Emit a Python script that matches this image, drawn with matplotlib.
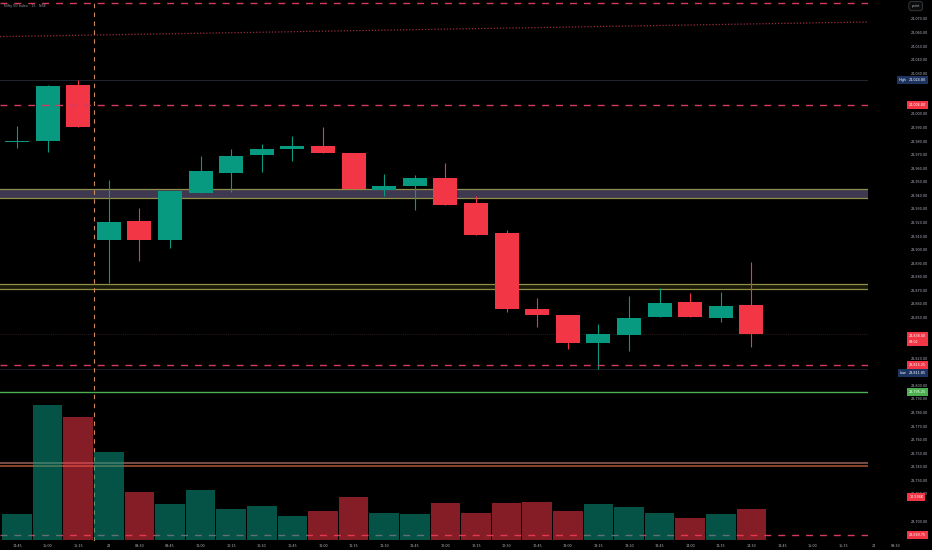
import matplotlib
matplotlib.use("Agg")
import matplotlib.pyplot as plt
import matplotlib.transforms as mtransforms
import numpy as np

# 15 min candles, Nifty 50
times = ["14:45", "15:00", "15:15", "23", "09:30", "09:45", "10:00", "10:15", "10:30",
         "10:45", "11:00", "11:15", "11:30", "11:45", "12:00", "12:15", "12:30", "12:45",
         "13:00", "13:15", "13:30", "13:45", "14:00", "14:15", "14:30"]
axis_labels = times + ["14:45", "15:00", "15:15", "24", "09:30"]

opens = [23979.0, 23980.1, 24021.4, 23907.1, 23921.1, 23907.1, 23941.8, 23956.5, 23969.8,
         23974.2, 23976.4, 23971.3, 23944.0, 23946.9, 23952.8, 23934.4, 23912.3, 23856.3,
         23851.9, 23831.2, 23837.1, 23850.4, 23861.5, 23849.7, 23859.2]
highs = [23991.2, 24021.4, 24024.8, 23951.4, 23930.7, 23943.3, 23969.0, 23974.2, 23977.9,
         23983.8, 23990.4, 23971.3, 23955.8, 23955.0, 23963.9, 23939.6, 23914.5, 23864.4,
         23851.9, 23845.2, 23865.9, 23871.8, 23868.1, 23868.8, 23890.9]
lows = [23974.9, 23972.0, 23990.4, 23875.5, 23891.7, 23901.2, 23941.8, 23942.5, 23957.3,
        23965.4, 23971.3, 23944.7, 23939.6, 23929.2, 23932.9, 23910.8, 23854.1, 23843.0,
        23826.8, 23811.85, 23825.3, 23850.4, 23850.4, 23846.7, 23828.3]
closes = [23979.8, 24020.6, 23990.4, 23920.4, 23907.1, 23943.3, 23958.0, 23969.0, 23974.2,
          23976.4, 23971.3, 23944.7, 23946.9, 23952.8, 23932.9, 23910.8, 23856.3, 23851.9,
          23831.2, 23837.9, 23849.7, 23860.7, 23850.4, 23858.5, 23838.0]
volumes_k = [8.9, 46.2, 42.1, 30.1, 16.4, 12.3, 17.1, 10.6, 11.6, 8.2, 9.9, 14.7, 9.2,
             8.9, 12.7, 9.2, 12.7, 13.0, 9.9, 12.3, 11.3, 9.2, 7.5, 8.9, 10.594]

# price scale labels (those hidden behind badges left out)
price_ticks = [24070, 24060, 24050, 24040, 24030, 24000, 23990, 23980, 23970, 23960,
               23950, 23940, 23930, 23920, 23910, 23900, 23890, 23880, 23870, 23860,
               23850, 23830, 23820, 23800, 23790, 23780, 23770, 23760, 23750, 23740,
               23730, 23720, 23700]

# drawn levels
red_dashed = [24081.8, 24006.8, 23815.25, 23689.75]
grey_zone = (23938.1, 23944.7)
olive_pair = (23871.1, 23874.7)
green_level = 23795.25
brown_levels = [23742.8, 23740.6]
high_level = 24024.8
low_level = 23811.85
trend_start = 24057.0
trend_end = 24067.8
session_break = 2.5

GREEN = "#089981"
RED = "#f23645"
NAVY = "#1d3461"
BG = "#000000"
TXT = "#b2b5be"
FS = 2.4

fig = plt.figure(figsize=(9.32, 5.5), dpi=100, facecolor=BG)
ax = fig.add_axes([0, 9 / 550, 868 / 932, 541 / 550])
ax.set_facecolor(BG)
ax.set_xlim(-0.556, 27.81)
ax.set_ylim(23685.3, 24084.0)

# volume on an overlay axis
vax = ax.twinx()
vax.set_ylim(-0.35, 184.7)
vax.axis("off")
n = len(times)
idx = np.arange(n)
up = np.array(closes) >= np.array(opens)
vcol = np.where(up, GREEN, RED)
vax.bar(idx, volumes_k, width=0.97, color=vcol, alpha=0.55, linewidth=0, zorder=1)

# zones / levels
ax.axhspan(grey_zone[0], grey_zone[1], color="#45405a", alpha=0.9, zorder=1, lw=0)
for y in grey_zone:
    ax.axhline(y, color="#8f8f48", lw=0.9, zorder=2)
ax.axhspan(olive_pair[0], olive_pair[1], color="#1a1a08", zorder=1, lw=0)
for y in olive_pair:
    ax.axhline(y, color="#8f8f48", lw=0.9, zorder=2)
ax.axhline(green_level, color="#4caf50", lw=1.0, zorder=2)
ax.axhline(brown_levels[0], color="#8c5a52", lw=1.2, zorder=2)
ax.axhline(brown_levels[1], color="#a0522d", lw=1.2, zorder=2)
ax.axhline(high_level, color="#222630", lw=0.7, zorder=1)
ax.axhline(low_level, color="#1c1f28", lw=0.7, zorder=1)
ax.axhline(closes[-1], color="#2a1a1c", lw=0.7, ls=(0, (1, 1)), zorder=1)
ax.plot([-0.556, 27.81], [trend_start, trend_end], color="#9b2c40", lw=0.9,
        ls=(0, (1, 1.5)), zorder=2)
for y in red_dashed:
    ax.axhline(y, color="#d63a5e", lw=1.0, ls=(0, (5, 5)), zorder=6)
ax.axvline(session_break, color="#d08a5c", lw=0.8, ls=(0, (4, 4)), zorder=6)

# candles
for i in range(n):
    c = GREEN if up[i] else RED
    ax.vlines(i, lows[i], highs[i], color=c, lw=0.8, zorder=3)
    lo = min(opens[i], closes[i])
    h = max(abs(closes[i] - opens[i]), 0.6)
    ax.bar(i, h, bottom=lo, width=0.78, color=c, linewidth=0, zorder=4)

# axes cosmetics
for s in ax.spines.values():
    s.set_visible(False)
ax.set_xticks([])
ax.yaxis.tick_right()
ax.set_yticks(price_ticks)
ax.set_yticklabels([f"{v:,.2f}" for v in price_ticks])
ax.tick_params(axis="y", length=0, pad=31, labelsize=FS, labelcolor=TXT)

xt = mtransforms.blended_transform_factory(ax.transData, ax.transAxes)
label_pos = list(range(29)) + [28.7]
for pos, lab in zip(label_pos, axis_labels):
    ax.text(pos, -0.009, lab, transform=xt, ha="center", va="center",
            fontsize=FS, color=TXT, clip_on=False)

# price badges
yt = mtransforms.blended_transform_factory(ax.transAxes, ax.transData)


def badge(y, text, fc, tc="white"):
    ax.text(1.0475, y, text, transform=yt, ha="left", va="center", fontsize=FS,
            color=tc, clip_on=False, zorder=10, linespacing=1.6,
            bbox=dict(boxstyle="square,pad=0.6", fc=fc, ec="none"))


def tag(y, text):
    ax.text(1.0445, y, text, transform=yt, ha="right", va="center", fontsize=FS,
            color="white", clip_on=False, zorder=10,
            bbox=dict(boxstyle="square,pad=0.6", fc=NAVY, ec="none"))


badge(high_level, "24,024.80", NAVY)
tag(high_level, "High")
badge(24006.8, "24,006.80", RED)
badge(23834.0, "23,838.00\n09:02", RED)
badge(23815.25, "23,815.25", RED)
badge(low_level - 2.8, "23,811.85", NAVY)
tag(low_level - 2.8, "Low")
badge(green_level, "23,795.25", "#4caf50")
badge(23717.5, "10.594K", RED)
badge(23689.75, "23,689.75", RED)

fig.text(0.978, 0.989, "point", ha="left", va="center", fontsize=FS, color=TXT,
         bbox=dict(boxstyle="round,pad=0.8", fc="#0c0c0c", ec="#3a3d45", lw=0.6))
fig.text(0.004, 0.989, "Nifty 50 Index · 15 · NSE", ha="left", va="center",
         fontsize=FS, color="#9598a1")

fig.savefig("out.png", dpi=100, facecolor=BG)
